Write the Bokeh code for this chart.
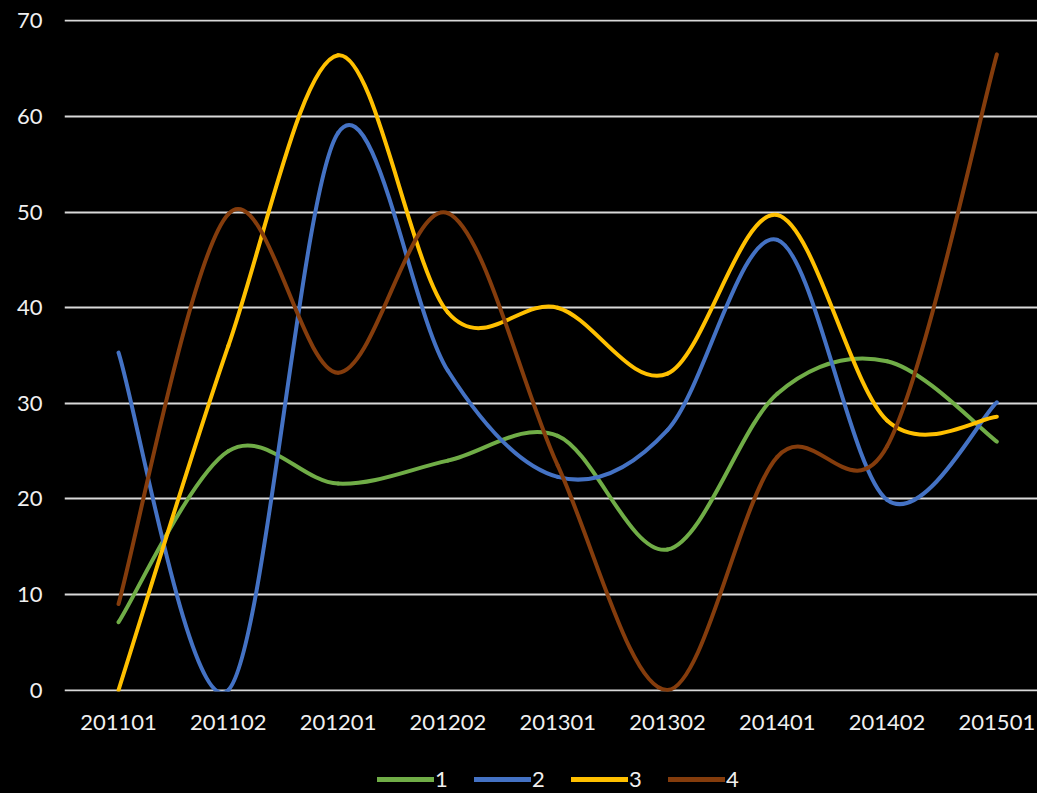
from bokeh.plotting import figure
from bokeh.models import Range1d, FixedTicker, Legend, LegendItem
from bokeh.layouts import column
from bokeh.embed import file_html
from bokeh.resources import INLINE

categories = ["201101", "201102", "201201", "201202", "201301", "201302", "201401", "201402", "201501"]
series_names = ["1", "2", "3", "4"]
s1 = [7.1, 25.0, 21.6, 24.0, 26.6, 14.7, 31.0, 34.4, 26.0]
s2 = [35.3, 0.0, 58.3, 33.4, 22.3, 27.2, 47.1, 19.9, 30.1]
s3 = [0.0, 36.0, 66.4, 39.5, 40.0, 33.1, 49.7, 28.2, 28.6]
s4 = [9.0, 49.8, 33.2, 49.9, 23.5, 0.0, 24.4, 25.5, 66.5]
colors = ["#70AD47", "#4472C4", "#FFC000", "#843C0C"]
y_ticks = [0, 10, 20, 30, 40, 50, 60, 70]

FONT = "Lato"
TXT = "#f0f0f0"

p = figure(width=1037, height=745, output_backend="svg", toolbar_location=None,
           x_range=Range1d(-0.492, 8.37), y_range=Range1d(-0.15, 70.15),
           min_border_left=64, min_border_right=0, min_border_top=19, min_border_bottom=54)
p.background_fill_color = "black"
p.border_fill_color = "black"
p.outline_line_color = None

p.xgrid.grid_line_color = None
p.ygrid.grid_line_color = "#d9d9d9"
p.ygrid.grid_line_width = 2
p.ygrid.ticker = FixedTicker(ticks=y_ticks)

p.xaxis.ticker = FixedTicker(ticks=list(range(len(categories))))
p.xaxis.major_label_overrides = {i: c for i, c in enumerate(categories)}
p.yaxis.ticker = FixedTicker(ticks=y_ticks)
for ax in (p.xaxis, p.yaxis):
    ax.axis_line_color = None
    ax.major_tick_line_color = None
    ax.minor_tick_line_color = None
    ax.major_tick_out = 0
    ax.major_tick_in = 0
    ax.major_label_text_font = FONT
    ax.major_label_text_font_size = "22px"
    ax.major_label_text_color = TXT
p.xaxis.major_label_standoff = 23
p.yaxis.major_label_standoff = 22

xs = list(range(len(categories)))

# legend strip below the chart
lg = figure(width=1037, height=48, output_backend="svg", toolbar_location=None,
            x_range=Range1d(0, 1), y_range=Range1d(0, 1),
            x_axis_location=None, y_axis_location=None,
            min_border_left=64, min_border_right=0, min_border_top=0, min_border_bottom=0)
lg.background_fill_color = "black"
lg.border_fill_color = "black"
lg.outline_line_color = None
for g in lg.grid:
    g.grid_line_color = None
    g.visible = False

items = []
for name, ys, col in zip(series_names, [s1, s2, s3, s4], colors):
    n = len(ys)
    x0, y0, x1, y1, cx0, cy0, cx1, cy1 = [], [], [], [], [], [], [], []
    for i in range(n - 1):
        pa = (xs[max(i - 1, 0)], ys[max(i - 1, 0)])
        pb = (xs[i], ys[i])
        pc = (xs[i + 1], ys[i + 1])
        pd = (xs[min(i + 2, n - 1)], ys[min(i + 2, n - 1)])
        x0.append(pb[0]); y0.append(pb[1])
        x1.append(pc[0]); y1.append(pc[1])
        cx0.append(pb[0] + (pc[0] - pa[0]) / 6.0); cy0.append(pb[1] + (pc[1] - pa[1]) / 6.0)
        cx1.append(pc[0] - (pd[0] - pb[0]) / 6.0); cy1.append(pc[1] - (pd[1] - pb[1]) / 6.0)
    p.bezier(x0=x0, y0=y0, x1=x1, y1=y1, cx0=cx0, cy0=cy0, cx1=cx1, cy1=cy1,
             line_color=col, line_width=4, line_cap="round")
    lr = lg.line(x=[xs[0]], y=[ys[0]], line_color=col, line_width=5, line_cap="round")
    items.append(LegendItem(label=name, renderers=[lr]))

legend = Legend(items=items, orientation="horizontal", location=(313, 1),
                glyph_width=57, glyph_height=20, label_standoff=1, spacing=19,
                padding=0, margin=0, border_line_color=None, background_fill_alpha=0,
                label_text_font=FONT, label_text_font_size="22px", label_text_color=TXT)
lg.add_layout(legend, "center")

layout = column(p, lg, spacing=0, styles={"background-color": "black"})
open("out.html", "w").write(file_html(layout, INLINE))
